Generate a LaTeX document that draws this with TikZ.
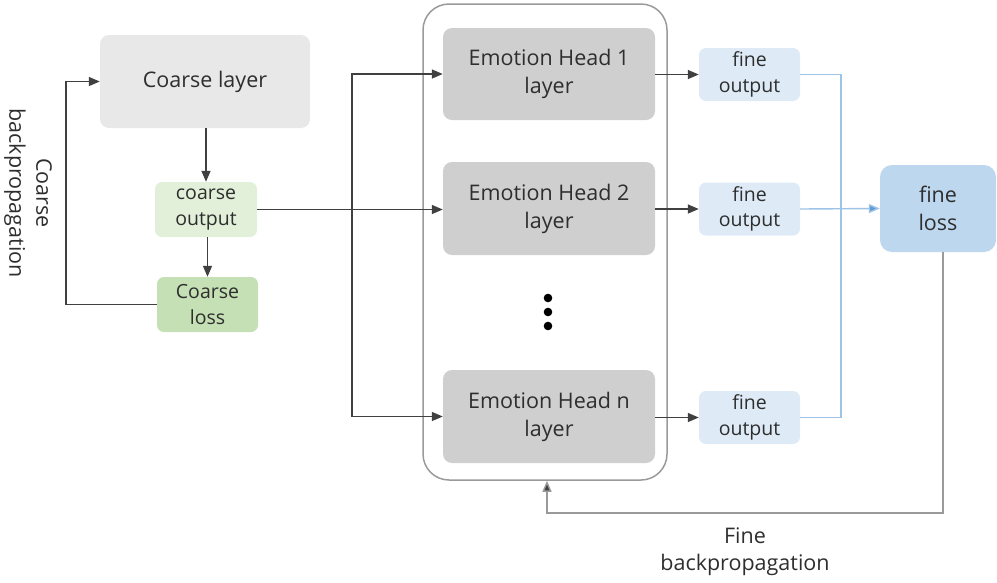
\documentclass[tikz,border=0pt]{standalone}
\usepackage{fontspec}
\setmainfont{Open Sans}
\usetikzlibrary{arrows.meta}
\definecolor{txt}{HTML}{2E2E2E}
\definecolor{lnk}{HTML}{404040}
\definecolor{back}{HTML}{9A9A9A}
\definecolor{coarsebox}{HTML}{E8E8E8}
\definecolor{headbox}{HTML}{D0CFCF}
\definecolor{cout}{HTML}{E2F0D9}
\definecolor{closs}{HTML}{C5E0B4}
\definecolor{fout}{HTML}{DEEBF7}
\definecolor{floss}{HTML}{BDD7EE}
\definecolor{blueln}{HTML}{9DC3E6}
\definecolor{bluetip}{HTML}{5B9BD5}
\tikzset{
  box/.style={rectangle, rounded corners=9pt, draw=none, text=txt, align=center, inner sep=0pt},
  bigbox/.style={box, font=\fontsize{21.5}{28}\selectfont},
  headbox/.style={box, font=\fontsize{21.5}{28}\selectfont},
  smallbox/.style={box, rounded corners=7pt, font=\fontsize{19.5}{25.5}\selectfont},
  arr/.style={draw=lnk, line width=1.4pt, -{Triangle[length=11pt,width=9pt]}},
  bluelink/.style={draw=blueln, line width=1.4pt},
  bluearr/.style={bluelink, -{Triangle[length=11pt,width=9pt,fill=bluetip]}},
  backarr/.style={draw=back, line width=1.4pt, -{Triangle[length=11pt,width=9pt,fill=lnk]}},
  lbl/.style={text=txt, align=center, font=\fontsize{21.5}{27}\selectfont}
}
\begin{document}
\begin{tikzpicture}[x=1pt,y=-1pt]
\useasboundingbox (0,0) rectangle (997,582);

% heads container
\node[rectangle, rounded corners=26pt, draw=back, line width=1.5pt,
      minimum width=244pt, minimum height=476pt] (group) at (545,242) {};

% coarse branch
\node[bigbox, fill=coarsebox, minimum width=210pt, minimum height=93pt] (clayer) at (205,81.5) {Coarse layer};
\node[smallbox, fill=cout, minimum width=102pt, minimum height=55pt] (cout) at (206,209.5) {coarse\\output};
\node[smallbox, fill=closs, minimum width=101pt, minimum height=55pt] (closs) at (207.5,304.5) {Coarse\\loss};

% emotion heads
\node[headbox, fill=headbox, minimum width=212pt, minimum height=92pt] (h1) at (549,74) {Emotion Head 1\\layer};
\node[headbox, fill=headbox, minimum width=212pt, minimum height=93pt] (h2) at (549,208.5) {Emotion Head 2\\layer};
\node[headbox, fill=headbox, minimum width=212pt, minimum height=93pt] (hn) at (549,416.5) {Emotion Head n\\layer};
\foreach \yy in {298,312,326} \fill[black] (548,\yy) circle (4.3pt);

% fine outputs and loss
\node[smallbox, fill=fout, minimum width=101pt, minimum height=53pt] (f1) at (749.5,74.5) {fine\\output};
\node[smallbox, fill=fout, minimum width=101pt, minimum height=53pt] (f2) at (749.5,209) {fine\\output};
\node[smallbox, fill=fout, minimum width=101pt, minimum height=53pt] (fn) at (749.5,417.5) {fine\\output};
\node[bigbox, fill=floss, rounded corners=12pt, minimum width=116pt, minimum height=87pt] (floss) at (938,208.5) {fine\\loss};

% coarse flow
\draw[arr] (clayer.south -| cout.north) -- (cout.north);
\draw[arr] (cout.south -| closs.north) -- (closs.north);
\coordinate (cb) at (66,304.5);
\draw[arr] (closs.west) -- (cb) |- (clayer.west);
\node[lbl, rotate=-90] (cbl) at (28,193) {Coarse\\backpropagation};

% coarse output fanned out to the heads
\coordinate (split) at (352,209);
\draw[arr] (cout.east) -- (h2.west |- cout.east);
\draw[arr] (split) |- (h1.west);
\draw[arr] (split) |- (hn.west);

% heads to fine outputs
\draw[arr] (h1.east |- f1.west) -- (f1.west);
\draw[arr] (h2.east |- f2.west) -- (f2.west);
\draw[arr] (hn.east |- fn.west) -- (fn.west);

% fine outputs collected into the fine loss
\coordinate (join) at (841,209);
\draw[bluelink] (f1.east) -| (join);
\draw[bluelink] (fn.east) -| (join);
\draw[bluearr] (f2.east) -- (floss.west);

% fine backpropagation
\coordinate (fb1) at (943,513);
\coordinate (fb2) at (547,513);
\draw[backarr] (floss.south -| fb1) -- (fb1) -- (fb2) -- (group.south -| fb2);
\node[lbl] (fbl) at (745,552) {Fine\\backpropagation};
\end{tikzpicture}
\end{document}
